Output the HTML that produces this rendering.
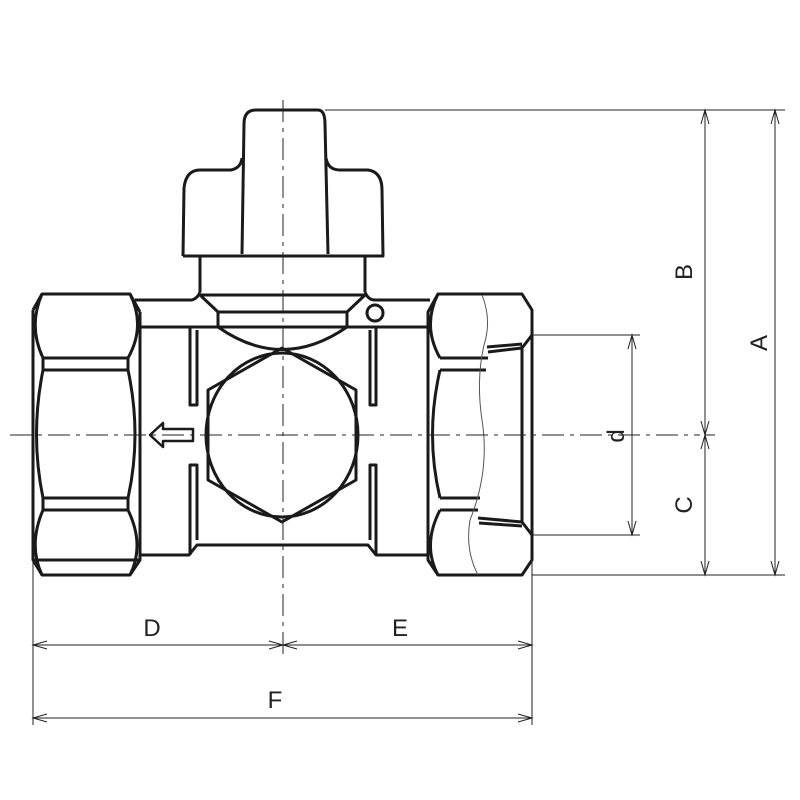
<!DOCTYPE html>
<html><head><style>html,body{margin:0;padding:0;background:#fff}svg{display:block}</style></head><body>
<svg width="800" height="800" viewBox="0 0 800 800" xmlns="http://www.w3.org/2000/svg">
<g fill="none" stroke="#1a1a1a" stroke-width="3" stroke-linejoin="round">
<!-- knob -->
<path d="M242,254 L244,124 Q244,110 256,110 L318,110 Q325,110 325,124 L328,254"/>
<path d="M183,256 L184,188 Q186,170 200,170 L231,170 Q241,168 242,158"/>
<path d="M326,158 Q328,170 340,170 L368,170 Q382,172 382,190 L383,256 L183,256"/>
<!-- neck -->
<path d="M200,256 V292 M365,256 V292 M201,295 H364"/>
<path d="M200,292 Q198,298 192,300 H135 M365,292 Q368,300 375,300 H430"/>
<path d="M200,295 L218,312 V327 M365,295 L347,312 V327 M218,312 H347"/>
<path d="M218,327 Q282,372 347,327"/>
<path d="M140,327 H428"/>
<circle cx="375" cy="313" r="8"/>
<!-- left nut -->
<path d="M33,310 L42,294 H130 L140,312 M140,560 L130,575 H42 L33,560 Z M33,310 V560"/>
<path d="M42,294 Q28,326 43,358 H128 Q146,326 130,294"/>
<path d="M43,370 H128 M43,498 H128 M43,510 H128"/>
<path d="M43,370 Q30,435 43,498 M128,370 Q142,435 128,498"/>
<path d="M43,510 Q28,545 42,575 M128,510 Q145,545 130,575"/>
<path d="M43,358 V370 M128,358 V370 M43,498 V510 M128,498 V510"/>
<path d="M140,312 V560"/>
<!-- body -->
<path d="M140,555 H189 L197,545 H368 L376,555 H428"/>
<path d="M190,327 V405 H197 V330 M190,555 V465 H197 V540"/>
<path d="M376,327 V405 H370 V330 M376,555 V465 H370 V540"/>
<!-- hex + circle -->
<path d="M282,348 L356,390 V480 L282,522 L208,480 V390 Z"/>
<ellipse cx="282" cy="435" rx="76" ry="82"/>
<!-- arrow -->
<path d="M150,435 L163,423 V429 H193 V441 H163 V447 Z" stroke-width="2.5"/>
<!-- right nut -->
<path d="M428,312 L438,294 H522 L532,310 V560 L522,575 H438 L428,560 Z"/>
<path d="M438,294 Q422,326 440,358 M438,575 Q422,545 440,510 M440,370 Q425,435 440,498"/>
<path d="M440,358 H488 M440,370 H486 M440,498 H480 M440,510 H478"/>
<path d="M488,352 L522,348 L532,335 M487,347 L522,344 M478,518 L522,522 L532,535 M479,523 L522,526"/>
<path d="M522,345 V523"/>
<path d="M428,312 V560"/>
</g>
<path d="M482,295 Q492,320 484,345 Q476,380 482,420 Q490,470 470,520 Q465,550 478,575" fill="none" stroke="#555" stroke-width="1"/>
<!-- dimension lines -->
<g fill="none" stroke="#222" stroke-width="1">
<path d="M325,110 H785 M532,335 H640 M532,535 H640 M532,575 H785 M705,435 H715"/>
<path d="M775,110 V575 M705,110 V575 M632,335 V535"/>
<path d="M33,560 V725 M532,560 V725 M33,645 H532 M33,718 H532"/>
<path d="M10,435 H700" stroke-dasharray="22,6,4,6"/>
<path d="M283,100 V655" stroke-dasharray="22,6,4,6"/>
</g>
<g fill="none" stroke="#222" stroke-width="1">
<path d="M771,124 L775,110 L779,124 M771,561 L775,575 L779,561"/>
<path d="M701,124 L705,110 L709,124 M701,421 L705,435 L709,421 M701,449 L705,435 L709,449 M701,561 L705,575 L709,561"/>
<path d="M628,349 L632,335 L636,349 M628,521 L632,535 L636,521"/>
<path d="M47,641 L33,645 L47,649 M269,641 L283,645 L269,649 M297,641 L283,645 L297,649 M518,641 L532,645 L518,649"/>
<path d="M47,714 L33,718 L47,722 M518,714 L532,718 L518,722"/>
</g>
<g font-family="Liberation Sans, sans-serif" font-size="24" fill="#222" text-anchor="middle">
<text x="152" y="636">D</text>
<text x="400" y="636">E</text>
<text x="275" y="708">F</text>
<text transform="translate(692,272) rotate(-90)">B</text>
<text transform="translate(767,343) rotate(-90)">A</text>
<text transform="translate(624,436) rotate(-90)">d</text>
<text transform="translate(692,505) rotate(-90)">C</text>
</g>
</svg>
</body></html>
